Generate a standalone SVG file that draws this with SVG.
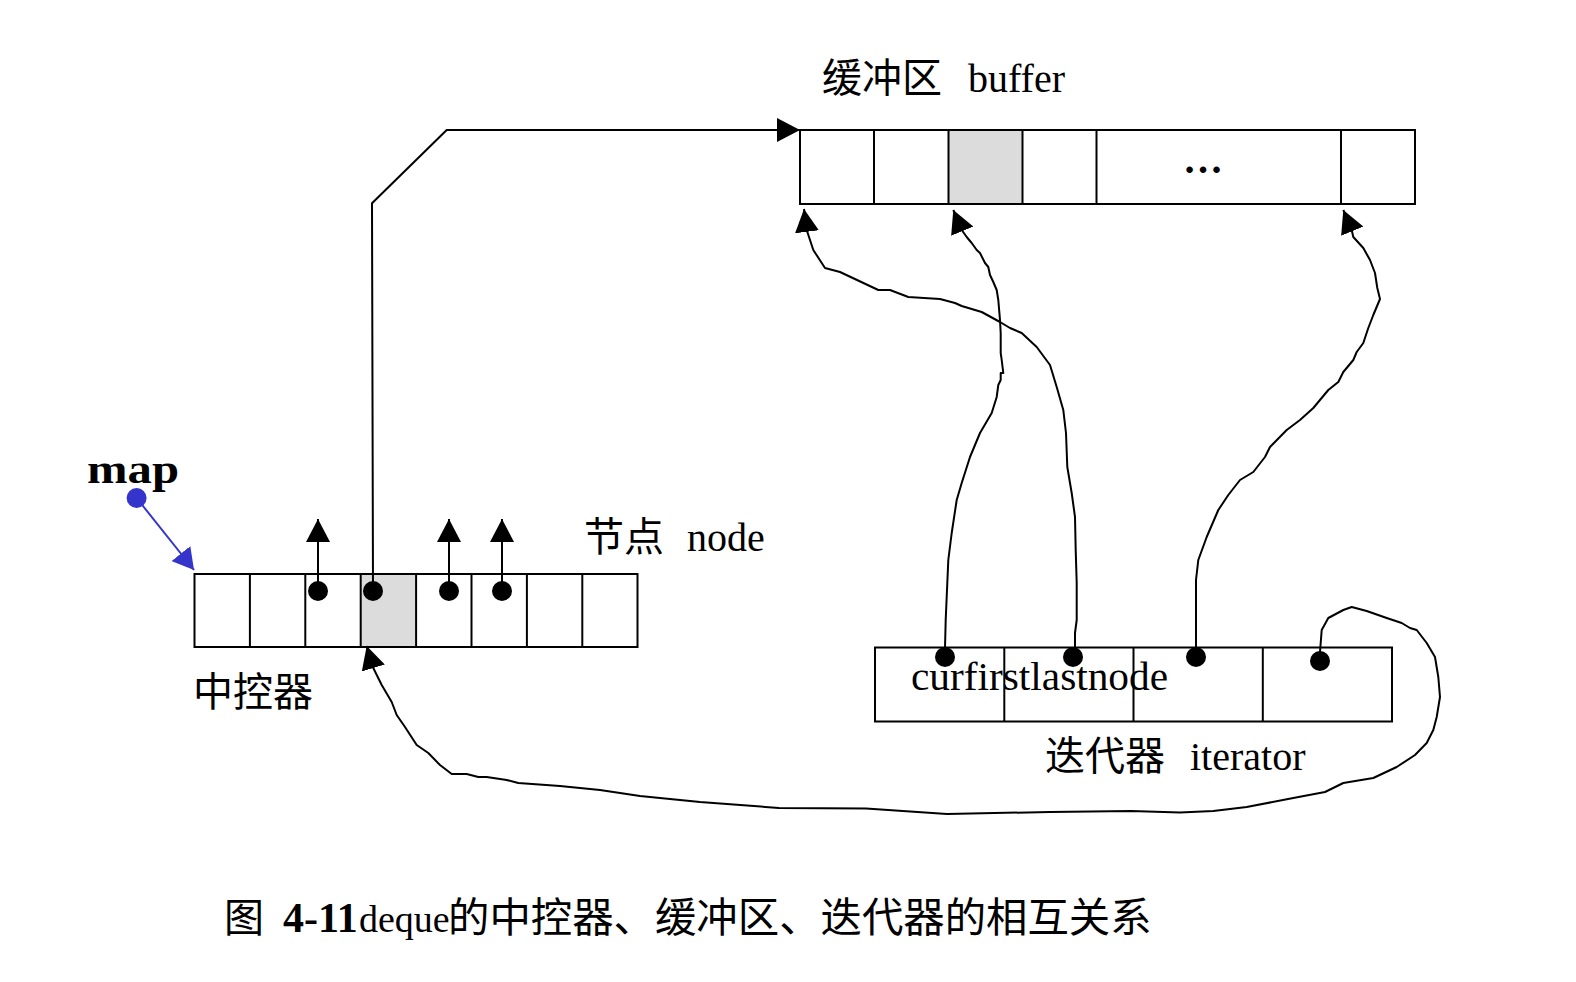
<svg xmlns="http://www.w3.org/2000/svg" width="1576" height="982" viewBox="0 0 1576 982">
<style>
.box{fill:#fff;stroke:#000;stroke-width:2}
.shade{fill:#dcdcdc;stroke:#000;stroke-width:2}
.ln{fill:none;stroke:#000;stroke-width:2;stroke-linejoin:round}
.dot{fill:#000}
.t{font-family:"Liberation Serif","Noto Sans CJK SC",serif;font-size:40px;fill:#000}
</style>
<defs>
<marker id="ah" markerUnits="userSpaceOnUse" viewBox="0 0 23 24" markerWidth="23" markerHeight="24" refX="23" refY="12" orient="auto">
<path d="M0,0 L23,12 L0,24 z" fill="#000"/>
</marker>
<marker id="ahb" markerUnits="userSpaceOnUse" viewBox="0 0 21 24" markerWidth="21" markerHeight="24" refX="21" refY="12" orient="auto">
<path d="M0,0 L21,12 L0,24 z" fill="#3535cc"/>
</marker>
</defs>
<rect width="1576" height="982" fill="#fff"/>

<g id="buffer">
<rect class="box" x="800" y="130" width="615" height="74"/>
<rect class="shade" x="948.5" y="130" width="74" height="74"/>
<line class="ln" x1="874" y1="130" x2="874" y2="204"/>
<line class="ln" x1="1096.5" y1="130" x2="1096.5" y2="204"/>
<line class="ln" x1="1341" y1="130" x2="1341" y2="204"/>
<text class="t" x="1203" y="173" text-anchor="middle" font-size="60" font-weight="bold">…</text>
<text class="t" y="92"><tspan x="822">缓冲区</tspan><tspan x="968">buffer</tspan></text>
</g>

<g id="map-ctrl">
<rect class="box" x="194.5" y="574" width="443" height="73"/>
<rect class="shade" x="360.7" y="574" width="55.4" height="73"/>
<line class="ln" x1="249.9" y1="574" x2="249.9" y2="647"/>
<line class="ln" x1="305.3" y1="574" x2="305.3" y2="647"/>
<line class="ln" x1="471.5" y1="574" x2="471.5" y2="647"/>
<line class="ln" x1="526.9" y1="574" x2="526.9" y2="647"/>
<line class="ln" x1="582.3" y1="574" x2="582.3" y2="647"/>
<circle class="dot" cx="318" cy="591" r="10"/>
<circle class="dot" cx="373" cy="591" r="10"/>
<circle class="dot" cx="449" cy="591" r="10"/>
<circle class="dot" cx="502" cy="591" r="10"/>
<text class="t" x="193" y="706">中控器</text>
<text class="t" y="551"><tspan x="584">节点</tspan><tspan x="687">node</tspan></text>
</g>

<g id="map-ptr">
<text class="t" x="87" y="483" font-size="58" font-weight="bold" textLength="92" lengthAdjust="spacingAndGlyphs">map</text>
<circle cx="136.6" cy="498" r="10" fill="#3535cc"/>
</g>

<g id="iterator">
<rect class="box" x="875" y="647.5" width="517" height="74"/>
<line class="ln" x1="1004.3" y1="647.5" x2="1004.3" y2="721.5"/>
<line class="ln" x1="1133.5" y1="647.5" x2="1133.5" y2="721.5"/>
<line class="ln" x1="1262.8" y1="647.5" x2="1262.8" y2="721.5"/>
<circle class="dot" cx="945" cy="657" r="10"/>
<circle class="dot" cx="1073" cy="657" r="10"/>
<circle class="dot" cx="1196" cy="657" r="10"/>
<circle class="dot" cx="1320" cy="661" r="10"/>
<text class="t" x="911" y="690" textLength="257" lengthAdjust="spacingAndGlyphs">curfirstlastnode</text>
<text class="t" y="770"><tspan x="1045">迭代器</tspan><tspan x="1190">iterator</tspan></text>
</g>

<g id="connectors">
<line x1="136.6" y1="498" x2="194" y2="570" stroke="#3535cc" stroke-width="2" marker-end="url(#ahb)"/>
<line class="ln" x1="318" y1="591" x2="318" y2="519" marker-end="url(#ah)"/>
<line class="ln" x1="449" y1="591" x2="449" y2="519" marker-end="url(#ah)"/>
<line class="ln" x1="502" y1="591" x2="502" y2="519" marker-end="url(#ah)"/>
<path class="ln" d="M373,591 L372,203.3 L446.7,130 L800,130" marker-end="url(#ah)"/>
<path class="ln" d="M945,657 L945,648 L945.7,620 L947.3,583 L948.3,560 L951.7,533 L956.7,500 L961.7,483 L970,457 L980,433 L991.7,413 L996.7,397 L998.3,385 L1000.7,380 L1000.7,373 L1003.3,373 L1001.7,360 L1000.7,353 L1000.7,333 L1000,320 L998.3,300 L996.7,290 L993.3,282 L990,275 L988.3,267 L985,263 L980,253 L976.7,250 L971.7,243 L966.7,237 L961.7,230 L953.3,210" marker-end="url(#ah)"/>
<path class="ln" d="M1073,657 L1075,648 L1075,633 L1076.7,620 L1076.7,583 L1075.7,550 L1075,517 L1071.7,493 L1067.3,467 L1066,433 L1063.3,410 L1056.7,387 L1050,365 L1036.7,347 L1021.7,333 L1010,328 L1000,322 L981.7,312 L961.7,306 L955,303 L940,299 L908.3,297 L890,290 L878.3,290 L840,272 L825,268 L813.3,250 L806.7,230 L804,209" marker-end="url(#ah)"/>
<path class="ln" d="M1196,657 L1196,580 L1198.3,560 L1206.7,537 L1218.3,510 L1228.3,495 L1240,480 L1253.3,472 L1265,457 L1270,447 L1286.7,430 L1300,420 L1313.3,408 L1328.3,390 L1338.3,382 L1343.3,372 L1353.3,360 L1356.7,352 L1363.3,343 L1368.3,328 L1373.3,315 L1380,299 L1377.3,288 L1375,273 L1370,260 L1363.3,248 L1353.3,237 L1351.7,230 L1343.3,210" marker-end="url(#ah)"/>
<path class="ln" d="M1320,661 L1320,652 L1321.7,630 L1328.3,618 L1343.3,610 L1351.7,607 L1366.7,611 L1386.7,618 L1401.7,623 L1410,628 L1416.7,630 L1426.7,643 L1435,657 L1438.3,677 L1440,697 L1436.7,717 L1433.3,730 L1426.7,743 L1415,755 L1396.7,767 L1373.3,778 L1343.3,783 L1325,792 L1293.3,798 L1246.7,807 L1213.3,811 L1180,812.5 L1131,811 L1050,812 L947,814 L866,808.5 L779,808 L700,802 L640,796 L600,790 L560,786 L518.3,783 L506.7,780 L486.7,777 L478.3,777 L466.7,774 L451.7,774 L440,765 L428.3,753 L416.7,745 L405,727 L396.7,715 L391.7,702 L381.7,685 L373.3,668 L366.7,646" marker-end="url(#ah)"/>
</g>

<g id="caption">
<text class="t" y="932"><tspan x="224">图</tspan><tspan x="283" font-weight="bold" font-size="42">4-11</tspan><tspan x="359" font-size="38">deque</tspan><tspan x="448" font-size="41.4">的中控器、缓冲区、迭代器的相互关系</tspan></text>
</g>
</svg>
